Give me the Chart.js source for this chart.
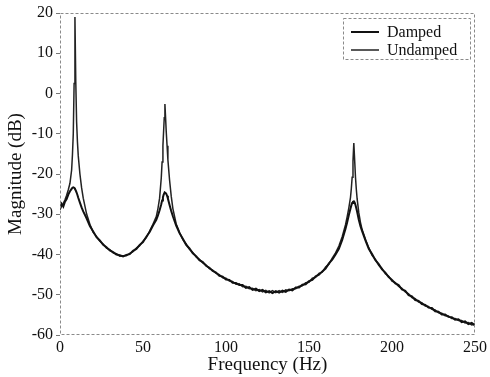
<!DOCTYPE html>
<html>
<head>
<meta charset="utf-8">
<script src="https://cdn.jsdelivr.net/npm/chart.js@4/dist/chart.umd.min.js"></script>
<style>
html, body { margin: 0; padding: 0; background: #fff; }
#wrap { width: 490px; height: 377px; }
</style>
</head>
<body>
<div id="wrap"><canvas id="freqChart" width="490" height="377"></canvas></div>
<script>
// Frequency axis samples (Hz)
const freqHz = [
    0, 1, 2, 3, 4, 5, 6, 7, 7.5, 8, 8.5, 9, 9.5, 10, 10.5, 11, 12, 13, 14,
    16, 18, 20, 22, 24, 26, 28, 30, 32, 34, 36, 38, 40, 42, 44, 46, 48, 50, 52, 54, 56, 58,
    59, 60, 61, 61.5, 62, 62.4, 62.8, 63.2, 63.6, 64, 64.5, 65, 66, 67, 68,
    70, 72, 74, 76, 78, 80, 82, 84, 86, 88, 90, 92, 94, 96, 98, 100, 102, 104, 106, 108,
    110, 112, 114, 116, 118, 120, 122, 124, 126, 128, 130, 132, 134, 136, 138, 140, 142, 144, 146, 148,
    150, 152, 154, 156, 158, 160, 162, 164, 166, 168, 170, 172,
    173, 174, 175, 175.5, 176, 176.5, 177, 177.5, 178, 178.5, 179, 180, 181, 182,
    184, 186, 188, 190, 192, 194, 196, 198, 200, 202, 204, 206, 208, 210, 212, 214, 216, 218, 220, 222,
    224, 226, 228, 230, 232, 234, 236, 238, 240, 242, 244, 246, 248, 250
];

// Damped response (dB)
const dampedDb = [
    -28.6, -27.4, -28.1, -26.9, -26.2, -25.1, -24.3, -23.7, -23.4, -23.3, -23.4, -23.7, -24.1, -24.6, -25.2, -25.9, -27.1, -28.3, -29.3,
    -31.0, -32.9, -34.3, -35.7, -36.5, -37.6, -38.2, -39.0, -39.4, -40.0, -40.2, -40.5, -40.1, -39.9, -39.1, -38.6, -37.6, -36.9, -35.6, -34.4, -32.8, -31.4,
    -30.3, -29.0, -27.5, -26.6, -25.8, -25.2, -24.8, -24.6, -24.7, -24.9, -25.4, -26.1, -27.7, -29.2, -30.5,
    -32.8, -34.7, -36.1, -37.6, -38.5, -39.7, -40.4, -41.4, -41.9, -42.8, -43.3, -44.1, -44.5, -45.3, -45.5, -46.2, -46.3, -47.0, -47.1, -47.6,
    -47.6, -48.3, -48.1, -48.8, -48.5, -49.1, -48.8, -49.4, -49.1, -49.6, -49.1, -49.5, -49.0, -49.3, -48.7, -48.9, -48.2, -48.2, -47.5, -47.4,
    -46.6, -46.3, -45.4, -45.0, -44.2, -43.5, -42.2, -41.3, -40.0, -38.6, -36.4, -33.6,
    -32.0, -30.2, -28.6, -27.8, -27.2, -26.9, -26.8, -27.1, -27.7, -28.5, -29.4, -31.4, -33.0, -34.2,
    -36.5, -38.6, -39.9, -41.4, -42.4, -43.7, -44.5, -45.6, -46.3, -47.2, -47.6, -48.7, -49.0, -50.1, -50.4, -51.3, -51.5, -52.3, -52.5, -53.2,
    -53.3, -54.1, -54.2, -54.9, -54.9, -55.5, -55.6, -56.2, -56.1, -56.8, -56.6, -57.3, -57.0, -57.6
];

// Undamped response (dB)
const undampedDb = [
    -28.9, -27.9, -27.3, -26.4, -25.3, -23.9, -22.3, -19.0, -15.2, -10.0, 2.5, 19.0, 3.0, -7.0, -12.0, -15.5, -20.0, -23.4, -26.0,
    -29.9, -32.5, -34.5, -35.5, -36.7, -37.4, -38.4, -38.8, -39.6, -39.8, -40.4, -40.3, -40.3, -39.7, -39.3, -38.4, -37.8, -36.7, -35.8, -34.2, -32.5, -30.6,
    -28.6, -26.0, -21.0, -17.0, -13.0, -9.5, -6.0, -2.6, -6.0, -9.5, -13.0, -16.5, -21.5, -25.5, -28.6,
    -32.4, -34.5, -36.3, -37.4, -38.7, -39.5, -40.6, -41.2, -42.1, -42.6, -43.5, -43.9, -44.7, -45.0, -45.8, -45.9, -46.6, -46.7, -47.4, -47.3,
    -48.0, -47.9, -48.5, -48.4, -49.0, -48.7, -49.3, -48.9, -49.5, -49.0, -49.5, -49.0, -49.4, -48.8, -49.0, -48.5, -48.5, -47.9, -47.8, -47.0,
    -46.9, -45.9, -45.7, -44.7, -44.4, -43.1, -42.4, -40.9, -39.6, -37.9, -35.6, -32.6,
    -30.6, -28.4, -25.8, -23.6, -20.8, -16.8, -12.3, -16.5, -20.8, -23.8, -26.2, -29.6, -32.0, -33.8,
    -36.2, -38.3, -40.2, -41.2, -42.7, -43.5, -44.8, -45.4, -46.6, -47.0, -47.9, -48.4, -49.3, -49.8, -50.7, -51.0, -51.8, -52.0, -52.8, -52.9,
    -53.6, -53.8, -54.5, -54.6, -55.2, -55.3, -55.9, -55.9, -56.4, -56.4, -57.0, -56.9, -57.5, -57.3
];

const xTicks = [0, 50, 100, 150, 200, 250];
const yTicks = [-60, -50, -40, -30, -20, -10, 0, 10, 20];
const seriesNames = ['Damped', 'Undamped'];

const serif = '"Liberation Serif", "DejaVu Serif", serif';

function toPoints(values) {
    return freqHz.map((f, i) => ({ x: f, y: values[i] }));
}

// Dotted frame round the plot area
const framePlugin = {
    id: 'frame',
    afterDraw(chart) {
        const a = chart.chartArea;
        const ctx = chart.ctx;
        ctx.save();
        ctx.strokeStyle = '#8a8a8a';
        ctx.lineWidth = 1;
        ctx.setLineDash([3, 2]);
        ctx.strokeRect(a.left + 0.5, a.top + 0.5, a.right - a.left - 1, a.bottom - a.top - 1);
        ctx.restore();
    }
};

// Boxed legend in the top right corner
const legendPlugin = {
    id: 'boxLegend',
    afterDraw(chart) {
        const a = chart.chartArea;
        const ctx = chart.ctx;
        const right = a.right - 4;
        const top = a.top + 5;
        const w = 128, h = 42;
        ctx.save();
        ctx.fillStyle = '#fff';
        ctx.fillRect(right - w, top, w, h);
        ctx.strokeStyle = '#8a8a8a';
        ctx.lineWidth = 1;
        ctx.setLineDash([3, 2]);
        ctx.strokeRect(right - w + 0.5, top + 0.5, w - 1, h - 1);
        ctx.setLineDash([]);
        ctx.font = '16px ' + serif;
        ctx.textBaseline = 'middle';
        ctx.fillStyle = '#111';
        chart.data.datasets.forEach((ds, i) => {
            const y = top + 14 + i * 18;
            ctx.strokeStyle = ds.borderColor;
            ctx.lineWidth = ds.borderWidth;
            ctx.beginPath();
            ctx.moveTo(right - w + 8, y);
            ctx.lineTo(right - w + 36, y);
            ctx.stroke();
            ctx.fillText(ds.label, right - w + 44, y + 1);
        });
        ctx.restore();
    }
};

new Chart(document.getElementById('freqChart'), {
    type: 'line',
    data: {
        datasets: [
            {
                label: seriesNames[0],
                data: toPoints(dampedDb),
                borderColor: '#111111',
                borderWidth: 2,
                pointRadius: 0,
                tension: 0
            },
            {
                label: seriesNames[1],
                data: toPoints(undampedDb),
                borderColor: '#222222',
                borderWidth: 1.5,
                pointRadius: 0,
                tension: 0
            }
        ]
    },
    options: {
        responsive: false,
        animation: false,
        layout: { padding: { top: 13, right: 12, left: 0, bottom: 0 } },
        plugins: {
            legend: { display: false },
            tooltip: { enabled: false }
        },
        scales: {
            x: {
                type: 'linear',
                min: 0,
                max: 250,
                afterBuildTicks: scale => { scale.ticks = xTicks.map(v => ({ value: v })); },
                afterFit: scale => { scale.height = 42; },
                border: { display: false },
                grid: { display: false, drawTicks: false },
                ticks: {
                    color: '#111',
                    font: { family: serif, size: 16 },
                    padding: 3,
                    maxRotation: 0
                },
                title: {
                    display: true,
                    text: 'Frequency (Hz)',
                    color: '#111',
                    font: { family: serif, size: 19 },
                    padding: { top: 0, bottom: 1 }
                }
            },
            y: {
                min: -60,
                max: 20,
                afterBuildTicks: scale => { scale.ticks = yTicks.map(v => ({ value: v })); },
                afterFit: scale => { scale.width = 60; },
                border: { display: false },
                grid: {
                    drawOnChartArea: false,
                    drawTicks: true,
                    tickLength: 4,
                    color: '#777'
                },
                ticks: {
                    color: '#111',
                    font: { family: serif, size: 16 },
                    padding: 3
                },
                title: {
                    display: true,
                    text: 'Magnitude (dB)',
                    color: '#111',
                    font: { family: serif, size: 19 },
                    padding: { top: 5, bottom: 0 }
                }
            }
        }
    },
    plugins: [framePlugin, legendPlugin]
});
</script>
</body>
</html>
